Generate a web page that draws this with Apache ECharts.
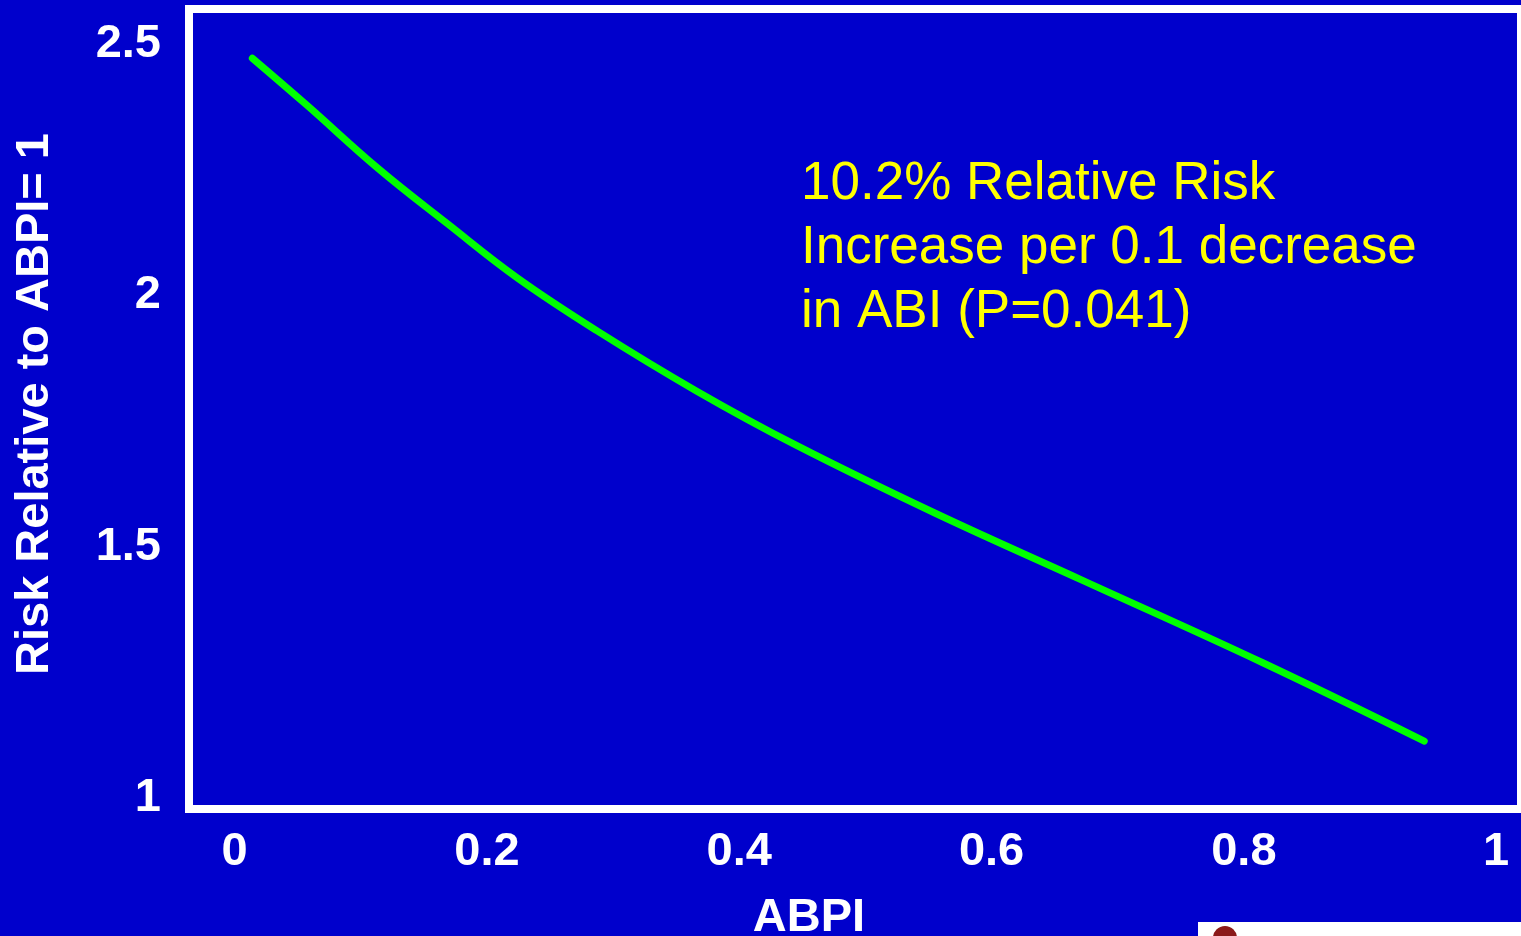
<!DOCTYPE html>
<html>
<head>
<meta charset="utf-8">
<script src="https://cdn.jsdelivr.net/npm/echarts@6/dist/echarts.min.js"></script>
<style>
  html, body { margin: 0; padding: 0; background: #0000cc; }
  #chart { width: 1521px; height: 936px; }
</style>
</head>
<body>
<div id="chart"></div>
<script>
// values
const abpi = [0.014, 0.057, 0.114, 0.169, 0.224, 0.287, 0.366, 0.445, 0.555, 0.673, 0.815, 0.943];
const relRisk = [2.472, 2.379, 2.252, 2.142, 2.035, 1.930, 1.810, 1.702, 1.567, 1.432, 1.269, 1.113];
const xTicks = [0, 0.2, 0.4, 0.6, 0.8, 1];
const yTicks = [1, 1.5, 2, 2.5];
const noteLines = ["10.2% Relative Risk", "Increase per 0.1 decrease", "in ABI (P=0.041)"];

const font = "'Liberation Sans', Arial, sans-serif";
const chart = echarts.init(document.getElementById("chart"));

chart.setOption({
  backgroundColor: "#0000cc",
  animation: false,
  grid: {
    left: 189, top: 9, width: 1341, height: 800,
    show: true, borderColor: "#ffffff", borderWidth: 8,
    backgroundColor: "transparent",
  },
  xAxis: {
    type: "value",
    min: -0.0362,
    max: 1.0197,
    axisLine: { show: false },
    axisTick: { show: false },
    splitLine: { show: false },
    axisLabel: {
      customValues: xTicks,
      formatter: (v) => String(v),
      color: "#ffffff",
      fontFamily: font,
      fontWeight: "bold",
      fontSize: 47,
      margin: 20,
    },
  },
  yAxis: {
    type: "value",
    min: 0.978,
    max: 2.57,
    axisLine: { show: false },
    axisTick: { show: false },
    splitLine: { show: false },
    axisLabel: {
      customValues: yTicks,
      formatter: (v) => String(v),
      color: "#ffffff",
      fontFamily: font,
      fontWeight: "bold",
      fontSize: 47,
      margin: 28,
    },
  },
  series: [
    {
      type: "line",
      data: abpi.map((x, i) => [x, relRisk[i]]),
      smooth: 0.4,
      showSymbol: false,
      lineStyle: { color: "#00ff00", width: 7, cap: "round" },
    },
  ],
  graphic: [
    {
      type: "text",
      left: 801,
      top: 152,
      style: {
        text: noteLines.join("\n"),
        fill: "#ffff00",
        font: "53px " + font,
        lineHeight: 64,
      },
    },
    {
      type: "text",
      x: 809,
      y: 918,
      style: {
        text: "ABPI",
        fill: "#ffffff",
        font: "bold 47px " + font,
        align: "center",
        verticalAlign: "middle",
      },
    },
    {
      type: "text",
      x: 35,
      y: 404,
      rotation: Math.PI / 2,
      style: {
        text: "Risk Relative to ABPI= 1",
        fill: "#ffffff",
        font: "bold 47px " + font,
        align: "center",
        verticalAlign: "middle",
      },
    },
    {
      type: "rect",
      shape: { x: 1198, y: 922, width: 330, height: 20 },
      style: { fill: "#ffffff" },
    },
    {
      type: "circle",
      shape: { cx: 1225, cy: 938, r: 12 },
      style: { fill: "#8b1a1a" },
    },
  ],
});
</script>
</body>
</html>
